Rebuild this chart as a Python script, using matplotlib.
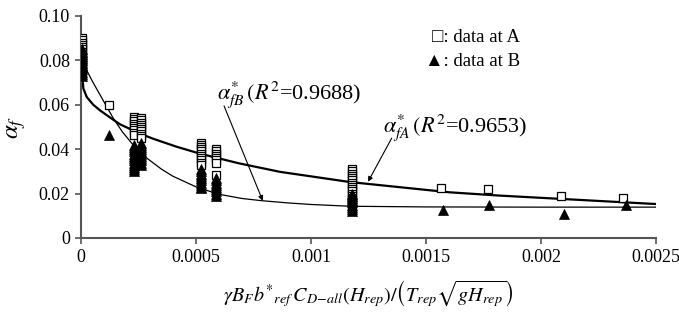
import matplotlib
matplotlib.use("Agg")
import matplotlib.pyplot as plt

plt.rcParams['font.family'] = ['Liberation Serif', 'DejaVu Serif']
plt.rcParams['mathtext.fontset'] = 'stix'

# ---- data ----
# data at A (open squares)
xA = ([0.000003] * 16 + [0.00012] +
      [0.00023] * 9 + [0.00026] * 10 +
      [0.00052] * 11 + [0.000587] * 8 +
      [0.001177] * 17 +
      [0.001564, 0.00177, 0.002086, 0.002355])
yA = ([0.090, 0.089, 0.088, 0.087, 0.086, 0.085, 0.084, 0.083, 0.082, 0.081,
       0.080, 0.079, 0.078, 0.077, 0.076, 0.075] +
      [0.060] +
      [0.0545, 0.0535, 0.0525, 0.0515, 0.0505, 0.0495, 0.0485, 0.0475, 0.0465] +
      [0.054, 0.053, 0.052, 0.051, 0.050, 0.049, 0.048, 0.047, 0.046, 0.045] +
      [0.043, 0.042, 0.041, 0.040, 0.039, 0.038, 0.037, 0.036, 0.035, 0.034, 0.033] +
      [0.040, 0.039, 0.038, 0.037, 0.036, 0.035, 0.034, 0.0285] +
      [0.031, 0.030, 0.029, 0.028, 0.027, 0.026, 0.025, 0.024, 0.023, 0.022,
       0.021, 0.020, 0.019, 0.018, 0.017, 0.016, 0.015] +
      [0.0225, 0.022, 0.0189, 0.018])

# data at B (filled triangles)
xB = ([0.000003] * 13 + [0.00012] +
      [0.00023] * 13 + [0.00026] * 11 +
      [0.00052] * 10 + [0.000587] * 9 +
      [0.001177] * 9 +
      [0.001573, 0.001774, 0.0021, 0.002368])
yB = ([0.085, 0.084, 0.083, 0.082, 0.081, 0.080, 0.079, 0.078, 0.077, 0.076,
       0.075, 0.074, 0.073] +
      [0.0465] +
      [0.042, 0.041, 0.040, 0.039, 0.038, 0.037, 0.036, 0.035, 0.034, 0.033,
       0.032, 0.031, 0.030] +
      [0.043, 0.042, 0.041, 0.040, 0.039, 0.038, 0.037, 0.036, 0.035, 0.034, 0.033] +
      [0.031, 0.030, 0.029, 0.028, 0.027, 0.026, 0.025, 0.024, 0.023, 0.0225] +
      [0.027, 0.026, 0.025, 0.024, 0.023, 0.022, 0.021, 0.020, 0.019] +
      [0.020, 0.019, 0.018, 0.017, 0.016, 0.015, 0.014, 0.013, 0.012] +
      [0.0126, 0.0149, 0.0108, 0.0149])

# fitted curve alpha*_fA (thick)
curveA_x = [0.000002, 0.00001, 0.000025, 0.0000535, 0.0000826, 0.00013, 0.00017,
            0.000257, 0.000314, 0.000416, 0.000517, 0.000684, 0.000865,
            0.00117, 0.0016, 0.00182, 0.0025]
curveA_y = [0.079, 0.0674, 0.0635, 0.060, 0.0575, 0.054, 0.0512,
            0.0470, 0.0447, 0.0411, 0.0380, 0.0337, 0.0298,
            0.0252, 0.0206, 0.0191, 0.0153]

# fitted curve alpha*_fB (thin)
curveB_x = [0.000005, 0.00002, 0.00005, 0.00008, 0.00011, 0.00014, 0.00018,
            0.000226, 0.000286, 0.00035, 0.0004, 0.000503, 0.0006, 0.0007,
            0.000786, 0.0009, 0.001, 0.00117, 0.0015, 0.002, 0.0025]
curveB_y = [0.080, 0.0765, 0.0705, 0.0650, 0.0595, 0.0540, 0.0478,
            0.0420, 0.0360, 0.0310, 0.0278, 0.0229, 0.0197, 0.0178,
            0.0168, 0.0158, 0.0151, 0.0143, 0.0140, 0.0139, 0.0139]

xticks = [0, 0.0005, 0.001, 0.0015, 0.002, 0.0025]
xticklabels = ["0", "0.0005", "0.001", "0.0015", "0.002", "0.0025"]
yticks = [0, 0.02, 0.04, 0.06, 0.08, 0.10]
yticklabels = ["0", "0.02", "0.04", "0.06", "0.08", "0.10"]

fig = plt.figure(figsize=(6.79, 3.27), dpi=100)
ax = fig.add_axes([81 / 679, 1 - 238 / 327, 575 / 679, 222 / 327])

ax.plot(curveA_x, curveA_y, color='black', lw=1.6, zorder=2)
ax.plot(curveB_x, curveB_y, color='black', lw=0.9, zorder=2)

ax.plot(xA, yA, linestyle='none', marker='s', markersize=5.2,
        markerfacecolor='white', markeredgecolor='black', markeredgewidth=0.9, zorder=3)
ax.plot(xB, yB, linestyle='none', marker='^', markersize=6.5,
        markerfacecolor='black', markeredgecolor='black', markeredgewidth=0.5, zorder=4)

ax.set_xlim(0, 0.0025)
ax.set_ylim(0, 0.10)
ax.set_xticks(xticks)
ax.set_xticklabels(xticklabels)
ax.set_yticks(yticks)
ax.set_yticklabels(yticklabels)
ax.tick_params(direction='out', length=4, width=1.2, color='#555555',
               labelsize=13, pad=4)
for s in ['top', 'right']:
    ax.spines[s].set_visible(False)
for s in ['left', 'bottom']:
    ax.spines[s].set_color('#555555')
    ax.spines[s].set_linewidth(1.5)

ax.set_ylabel(r"$\alpha_f$", fontsize=18, labelpad=8)
ax.set_xlabel(r"$\gamma B_F b^{*}{}_{ref}\, C_{D\!-\!all}(H_{rep})/\left(T_{rep}\sqrt{gH_{rep}}\right)$",
              fontsize=14.5, labelpad=9)

# legend as text
ax.text(0.001909, 0.0905, "\u25a1: data at A", fontsize=13.5, va='center', ha='right',
        family=['Liberation Serif', 'DejaVu Serif', 'DejaVu Sans'])
ax.text(0.001909, 0.0797, "\u25b2: data at B", fontsize=13.5, va='center', ha='right',
        family=['Liberation Serif', 'DejaVu Serif', 'DejaVu Sans'])

# annotations
ax.annotate("", xy=(0.00079, 0.0168), xytext=(0.000622, 0.0595),
            arrowprops=dict(arrowstyle='-|>', color='black', lw=0.8,
                            mutation_scale=7, shrinkA=0, shrinkB=0))
ax.text(0.00059, 0.0644, r"$\alpha^{*}_{fB}\,(R^{2}$=0.9688)",
        fontsize=16, ha='left', va='center')

ax.annotate("", xy=(0.001248, 0.02536), xytext=(0.001351, 0.045),
            arrowprops=dict(arrowstyle='-|>', color='black', lw=0.8,
                            mutation_scale=7, shrinkA=0, shrinkB=0))
ax.text(0.001313, 0.0495, r"$\alpha^{*}_{fA}\,(R^{2}$=0.9653)",
        fontsize=16, ha='left', va='center')

fig.savefig("out.png", dpi=100)
